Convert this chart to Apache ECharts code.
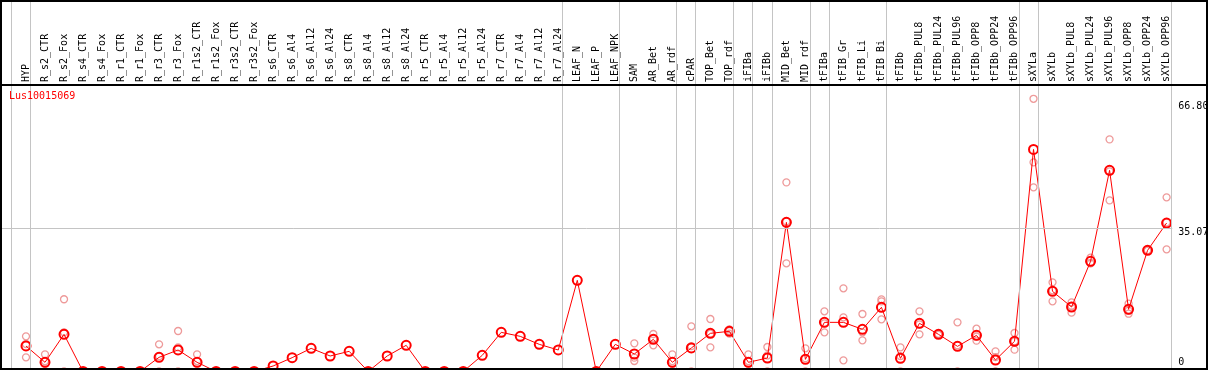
<!DOCTYPE html>
<html>
<head>
<meta charset="utf-8">
<script src="https://cdn.jsdelivr.net/npm/echarts@6/dist/echarts.min.js"></script>
<style>
	html, body { margin: 0; padding: 0; background: #fff; }
	#chart_box { width: 1209px; height: 370px; }
</style>
</head>
<body>
<div id="chart_box"></div>
<script>
var categories = ['HYP',
	'R_s2_CTR', 'R_s2_Fox', 'R_s4_CTR', 'R_s4_Fox', 'R_r1_CTR', 'R_r1_Fox', 'R_r3_CTR', 'R_r3_Fox',
	'R_r1s2_CTR', 'R_r1s2_Fox', 'R_r3s2_CTR', 'R_r3s2_Fox',
	'R_s6_CTR', 'R_s6_Al4', 'R_s6_Al12', 'R_s6_Al24', 'R_s8_CTR', 'R_s8_Al4', 'R_s8_Al12', 'R_s8_Al24',
	'R_r5_CTR', 'R_r5_Al4', 'R_r5_Al12', 'R_r5_Al24', 'R_r7_CTR', 'R_r7_Al4', 'R_r7_Al12', 'R_r7_Al24',
	'LEAF_N', 'LEAF_P', 'LEAF_NPK',
	'SAM', 'AR_Bet', 'AR_rdf', 'cPAR', 'TOP_Bet', 'TOP_rdf', 'iFIBa', 'iFIBb', 'MID_Bet', 'MID_rdf',
	'tFIBa', 'tFIB_Gr', 'tFIB_Li', 'tFIB_Bi',
	'tFIBb', 'tFIBb_PUL8', 'tFIBb_PUL24', 'tFIBb_PUL96', 'tFIBb_OPP8', 'tFIBb_OPP24', 'tFIBb_OPP96',
	'sXYLa', 'sXYLb', 'sXYLb_PUL8', 'sXYLb_PUL24', 'sXYLb_PUL96', 'sXYLb_OPP8', 'sXYLb_OPP24', 'sXYLb_OPP96'];

// sample groups (number of categories in each), separated by grey lines
var groupSizes = [1, 28, 3, 3, 1, 2, 1, 1, 2, 1, 3, 7, 1, 7];

// mean expression
var means = [6.25,
	2.25, 9.1, 0, 0, 0, 0, 3.47, 5.27,
	2.25, 0, 0, 0,
	1.35, 3.39, 5.67, 3.8, 4.94, 0, 3.8, 6.41,
	0, 0, 0, 3.96, 9.59, 8.61, 6.65, 5.27,
	22.33, 0, 6.65,
	4.29, 7.88, 2.25, 5.76, 9.35, 9.84, 2.25, 3.31, 36.53, 2.98,
	12.04, 12.04, 10.33, 15.72,
	3.23, 11.8, 9.1, 6.16, 8.86, 2.82, 7.39,
	54.41, 19.63, 15.8, 26.98, 49.27, 15.23, 29.68, 36.37];

// replicates
var repA = [8.61,
	4.2, 17.7, null, null, null, null, 6.65, 9.92,
	4.2, null, null, null,
	null, null, null, null, null, null, null, null,
	null, null, null, null, null, null, null, null,
	null, null, null,
	6.9, 9.18, 4.2, 11.06, 12.86, 10.33, 4.2, 6.0, 46.33, 5.67,
	14.74, 20.37, 14.08, 17.68,
	5.92, 14.74, 9.2, 12.04, 10.49, 4.94, 9.43,
	66.8, 21.84, 16.94, 27.88, 56.86, 16.61, 29.7, 42.66];
var repB = [6.74,
	2.5, 9.6, null, null, null, null, 3.75, 5.9,
	2.55, null, null, null,
	null, null, null, null, null, null, null, null,
	null, null, null, null, null, null, null, null,
	null, null, null,
	3.4, 8.05, 2.55, 6.2, 9.27, 9.92, 2.55, 3.93, 36.77, 3.27,
	11.79, 13.27, 9.59, 17.19,
	3.77, 11.56, 9.1, 6.44, 8.54, 3.52, 7.39,
	51.23, 19.86, 16.05, 26.57, 49.03, 14.92, 29.6, 36.53];
var repC = [3.47,
	0, 0, null, null, null, null, 0, 0,
	0, null, null, null,
	null, null, null, null, null, null, null, null,
	null, null, null, null, null, null, null, null,
	null, null, null,
	2.57, 6.41, 0, 0, 5.92, 9.27, 0, 0, 26.49, 0,
	9.59, 2.74, 7.63, 12.78,
	0, 9.1, 9.0, 0, 7.55, 0, 5.35,
	45.11, 17.19, 14.41, 26.49, 41.92, 14.16, 29.7, 29.92];

var yTicks = [0, 35.07, 66.8];
var yTickLabels = ['0', '35.07', '66.80'];

var font = 'DejaVu Sans Mono';

$ready();

function $ready() {
	var myChart = echarts.init(document.getElementById('chart_box'));

	var idx = categories.map(function(c, i) { return i; });
	var meanData = means.map(function(v, i) { return [i, v]; });
	var repData = [];
	[repA, repB, repC].forEach(function(arr) {
		arr.forEach(function(v, i) {
			if(v !== null) repData.push([i, v]);
		});
	});

	// separator positions, a little right of the last sample of each group
	var seps = [{ xAxis: -1 + 0.23 }];
	var pos = -1;
	groupSizes.forEach(function(n) {
		pos += n;
		seps.push({ xAxis: pos + 0.23 });
	});

	var rich = {};
	var pads = [[0, 0, 19, 0], [8, 0, 0, 0], [16, 0, 0, 0]];
	yTicks.forEach(function(t, i) {
		rich['p' + i] = { padding: pads[i], fontSize: 10, fontFamily: font, color: '#000' };
	});

	var option = {
		animation: false,
		backgroundColor: '#fff',
		title: {
			text: 'Lus10015069',
			left: 9,
			top: 91,
			padding: 0,
			textStyle: { color: '#ff0000', fontSize: 10, fontWeight: 'normal', fontFamily: font }
		},
		grid: {
			left: 1,
			right: 36.7,
			top: 0,
			bottom: -1.5,
			outerBoundsMode: 'none'
		},
		xAxis: {
			type: 'value',
			position: 'top',
			offset: -85,
			min: -1.315,
			max: 60.3,
			axisLine: { show: false },
			axisTick: { show: false },
			splitLine: { show: false },
			axisLabel: {
				customValues: idx,
				rotate: 90,
				margin: 3,
				fontSize: 10,
				fontFamily: font,
				color: '#000',
				formatter: function(v) { return categories[v]; }
			}
		},
		yAxis: {
			type: 'value',
			position: 'right',
			min: 0,
			max: 91,
			axisLine: { show: false },
			axisTick: { show: false },
			splitLine: { show: false },
			axisLabel: {
				customValues: yTicks,
				margin: 6,
				verticalAlign: 'middle',
				fontSize: 10,
				fontFamily: font,
				color: '#000',
				rich: rich,
				formatter: function(v) {
					var i = yTicks.indexOf(v);
					if(i < 0) return '';
					return '{p' + i + '|' + yTickLabels[i] + '}';
				}
			}
		},
		series: [{
				// grey group separators and 35.07 gridline
				type: 'line',
				data: [],
				z: 1,
				markLine: {
					silent: true,
					symbol: 'none',
					label: { show: false },
					lineStyle: { color: '#c4c4c4', width: 1, type: 'solid' },
					data: seps.concat([{ yAxis: yTicks[1] }])
				}
			},
			{
				name: 'replicates',
				type: 'scatter',
				z: 2,
				symbol: 'circle',
				symbolSize: 7,
				itemStyle: { color: 'rgba(0,0,0,0)', borderColor: '#ee9a9a', borderWidth: 1.3, opacity: 1 },
				data: repData
			},
			{
				name: 'mean',
				type: 'line',
				z: 3,
				symbol: 'circle',
				symbolSize: 9,
				showAllSymbol: true,
				lineStyle: { color: '#ff0000', width: 1 },
				itemStyle: { color: 'rgba(0,0,0,0)', borderColor: '#ff0000', borderWidth: 2 },
				data: meanData
			}
		],
		graphic: [{
				type: 'rect',
				z: 100,
				silent: true,
				shape: { x: 1, y: 1, width: 1206, height: 368 },
				style: { fill: 'none', stroke: '#000', lineWidth: 2 }
			},
			{
				type: 'line',
				z: 100,
				silent: true,
				shape: { x1: 0, y1: 85, x2: 1208, y2: 85 },
				style: { stroke: '#000', lineWidth: 2 }
			}
		]
	};

	myChart.setOption(option);
}
</script>
</body>
</html>
